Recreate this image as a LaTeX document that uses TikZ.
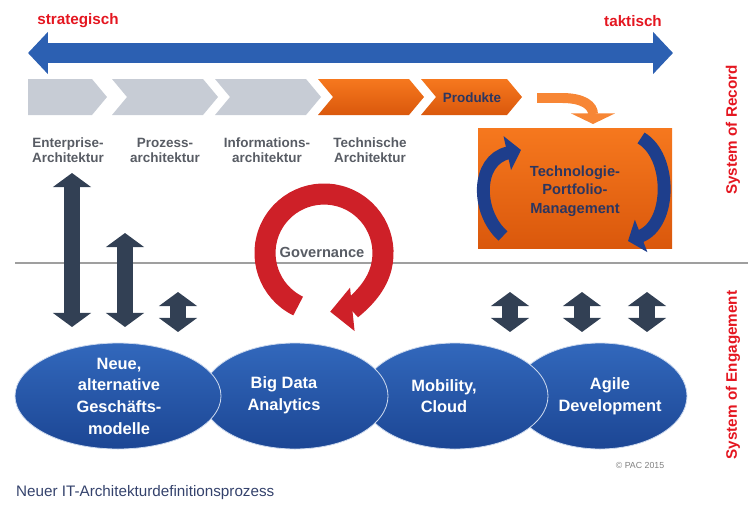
\documentclass[tikz,border=0pt]{standalone}
\usepackage{fontspec}
\setmainfont{Liberation Sans}
\usetikzlibrary{arrows.meta}

\definecolor{signred}{RGB}{228,22,32}
\definecolor{ringred}{RGB}{206,32,40}
\definecolor{scaleblue}{RGB}{44,96,178}
\definecolor{chevgray}{RGB}{199,204,213}
\definecolor{orangetop}{RGB}{246,120,30}
\definecolor{orangebot}{RGB}{218,88,12}
\definecolor{labelgray}{RGB}{88,92,100}
\definecolor{navytext}{RGB}{44,54,96}
\definecolor{loopblue}{RGB}{30,62,140}
\definecolor{slate}{RGB}{50,64,84}
\definecolor{elltop}{RGB}{50,104,188}
\definecolor{ellbot}{RGB}{28,70,148}
\definecolor{captionblue}{RGB}{52,66,108}

\begin{document}
\begin{tikzpicture}[x=0.3mm, y=-0.3mm,
  sidelabel/.style={text=signred, font=\fontsize{13}{15}\selectfont\bfseries},
  archlabel/.style={text=labelgray, align=center, font=\fontsize{11.5}{12.8}\selectfont\bfseries},
  darklabel/.style={text=navytext, align=center, font=\fontsize{12.5}{16}\selectfont\bfseries},
  elltext/.style={text=white, align=center, font=\fontsize{14}{18.5}\selectfont\bfseries},
  ellfill/.style={top color=elltop, bottom color=ellbot, draw=white!75!elltop, line width=0.7pt},
  orangefill/.style={top color=orangetop, bottom color=orangebot},
  updown/.style={slate, line width=14pt, {Triangle[length=12pt,width=32pt]}-{Triangle[length=12pt,width=32pt]}},
  loop/.style={loopblue, line width=11pt, -{Triangle[length=12pt,width=29pt]}}]
\useasboundingbox (0,0) rectangle (755,513);

\node[sidelabel] (strat) at (78,21) {strategisch};
\node[sidelabel] (takt) at (633,21) {taktisch};
\coordinate (scaleL) at (28,53);
\coordinate (scaleR) at (673,53);
\draw[scaleblue, line width=17pt, {Triangle[length=17pt,width=35pt]}-{Triangle[length=17pt,width=35pt]}] (scaleL) -- (scaleR);

\fill[chevgray] (28,79) -- (92,79) -- (107,97) -- (92,115) -- (28,115) -- cycle;
\foreach \x in {112,215}
  \fill[chevgray] (\x,79) -- ++(91,0) -- ++(15,18) -- ++(-15,18) -- ++(-91,0) -- ++(15,-18) -- cycle;
\shade[orangefill] (318,79) -- ++(91,0) -- ++(15,18) -- ++(-15,18) -- ++(-91,0) -- ++(15,-18) -- cycle;
\shade[orangefill] (421,79) -- ++(86,0) -- ++(15,18) -- ++(-15,18) -- ++(-86,0) -- ++(15,-18) -- cycle;
\node[archlabel, text=navytext] (prod) at (472,98) {Produkte};

\node[archlabel] (ent) at (68,150) {Enterprise-\\Architektur};
\node[archlabel] (proz) at (165,150) {Prozess-\\architektur};
\node[archlabel] (info) at (267,150) {Informations-\\architektur};
\node[archlabel] (tech) at (370,150) {Technische\\Architektur};

\shade[orangefill] (478,128) rectangle (672,248);
\node[darklabel] (tpm) at (575,191) {Technologie-\\Portfolio-\\Management};
\coordinate (hand) at (537,98);
\coordinate (drop) at (593,124);
\draw[orangetop!90!white, line width=8.5pt, -{Triangle[length=9pt,width=37pt]}] (hand) -- (562,98) .. controls (584,98) and (593,106) .. (drop);
\draw[loop] (503,236) .. controls (476,212) and (476,160) .. (521,150);
\draw[loop] (641,138) .. controls (672,156) and (672,224) .. (628,241);

\node[sidelabel, rotate=90] (record) at (733,130) {System of Record};
\node[sidelabel, rotate=90] (engage) at (733,375) {System of Engagement};

\draw[gray!75, line width=1pt] (15,263) -- (748,263);

\node[text=labelgray, font=\fontsize{12.5}{14}\selectfont\bfseries] (gov) at (322,252) {Governance};
\coordinate (govc) at (324,253);
\draw[ringred, line width=18pt, -{Triangle[length=19pt,width=36pt]}] ([shift={(116:59)}]govc) arc[start angle=116, end angle=444, radius=59];

\draw[updown] (72,173) -- (72,327);
\draw[updown] (125,233) -- (125,327);
\foreach \x in {178,510,582,647}
  \draw[updown] (\x,292) -- (\x,332);

\path[ellfill] (600,396) ellipse [x radius=87, y radius=53];
\path[ellfill] (455,396) ellipse [x radius=93, y radius=53];
\path[ellfill] (295,396) ellipse [x radius=93, y radius=53];
\path[ellfill] (118,396) ellipse [x radius=103, y radius=53];
\node[elltext] (neue) at (119,396) {Neue,\\alternative\\Geschäfts-\\modelle};
\node[elltext] (bigdata) at (284,395) {Big Data\\Analytics};
\node[elltext] (mobil) at (444,396) {Mobility,\\Cloud};
\node[elltext] (agile) at (610,396) {Agile\\Development};

\node[text=gray, font=\fontsize{7.5}{9}\selectfont] (copy) at (640,465) {© PAC 2015};
\node[anchor=west, text=captionblue, font=\fontsize{13}{15}\selectfont] (caption) at (12,493) {Neuer IT-Architekturdefinitionsprozess};
\end{tikzpicture}
\end{document}
